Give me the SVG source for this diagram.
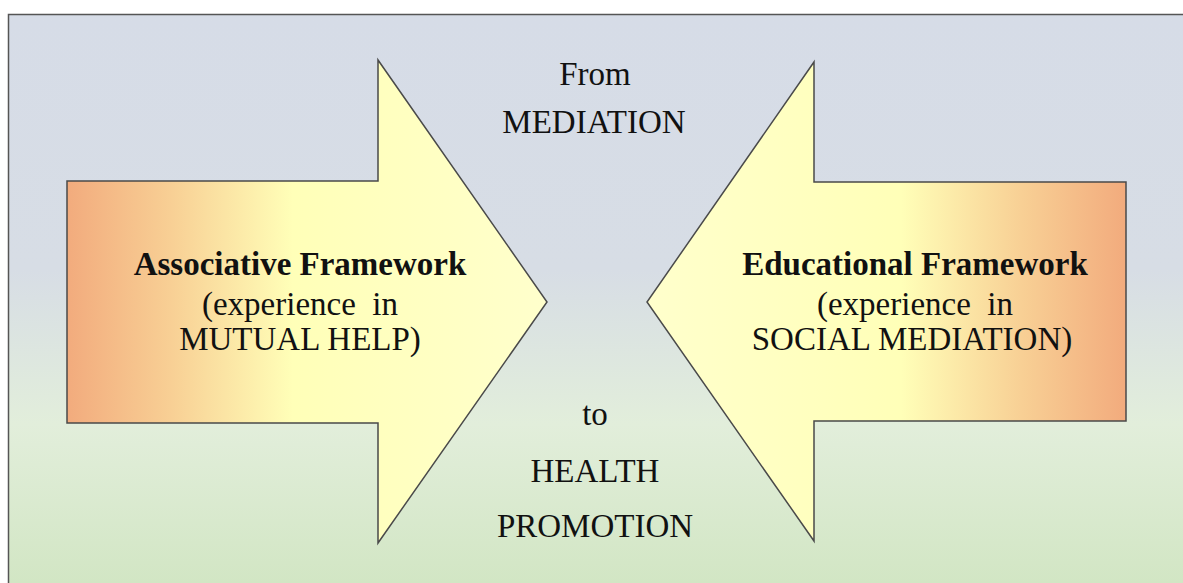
<svg xmlns="http://www.w3.org/2000/svg" width="1183" height="583" viewBox="0 0 1183 583">
  <defs>
    <linearGradient id="bg" x1="0" y1="14" x2="0" y2="583" gradientUnits="userSpaceOnUse">
      <stop offset="0" stop-color="#d6dce7"/>
      <stop offset="0.45" stop-color="#d7dde5"/>
      <stop offset="0.72" stop-color="#e2eedb"/>
      <stop offset="1" stop-color="#d2e6c4"/>
    </linearGradient>
    <linearGradient id="fillL" x1="67" y1="0" x2="547" y2="0" gradientUnits="userSpaceOnUse">
      <stop offset="0" stop-color="#f2ab7d"/>
      <stop offset="0.22" stop-color="#f8d095"/>
      <stop offset="0.47" stop-color="#ffffb8"/>
      <stop offset="1" stop-color="#ffffcc"/>
    </linearGradient>
    <linearGradient id="fillR" x1="1126" y1="0" x2="647" y2="0" gradientUnits="userSpaceOnUse">
      <stop offset="0" stop-color="#f2ab7d"/>
      <stop offset="0.22" stop-color="#f8d095"/>
      <stop offset="0.47" stop-color="#ffffb8"/>
      <stop offset="1" stop-color="#ffffcc"/>
    </linearGradient>
  </defs>
  <style>
    .arrow { stroke: #4a4a4a; stroke-width: 1.5; stroke-linejoin: miter; }
    .t { font-family: "Liberation Serif", "DejaVu Serif", serif; font-size: 33px; fill: #111; text-anchor: middle; white-space: pre; }
    .b { font-weight: bold; }
  </style>

  <!-- panel -->
  <rect x="8.5" y="14.5" width="1180" height="580" fill="url(#bg)" stroke="#555" stroke-width="1.5"/>

  <!-- left block arrow -->
  <g id="associative">
    <polygon class="arrow" fill="url(#fillL)" points="67,181 378,181 378,60 547,302 378,543 378,423 67,423"/>
    <text class="t b" x="300" y="275">Associative Framework</text>
    <text class="t" x="300" y="315" xml:space="preserve">(experience  in</text>
    <text class="t" x="300" y="350">MUTUAL HELP)</text>
  </g>

  <!-- right block arrow -->
  <g id="educational">
    <polygon class="arrow" fill="url(#fillR)" points="1126,182 814,182 814,62 647,302 814,541 814,421 1126,421"/>
    <text class="t b" x="915" y="275">Educational Framework</text>
    <text class="t" x="915" y="315" xml:space="preserve">(experience  in</text>
    <text class="t" x="912" y="350">SOCIAL MEDIATION)</text>
  </g>

  <!-- centre labels -->
  <g id="from">
    <text class="t" x="595" y="85">From</text>
    <text class="t" x="594" y="133">MEDIATION</text>
  </g>
  <g id="to">
    <text class="t" x="595" y="425">to</text>
    <text class="t" x="595" y="482">HEALTH</text>
    <text class="t" x="595" y="537">PROMOTION</text>
  </g>
  <g id="connectors"/>
</svg>
